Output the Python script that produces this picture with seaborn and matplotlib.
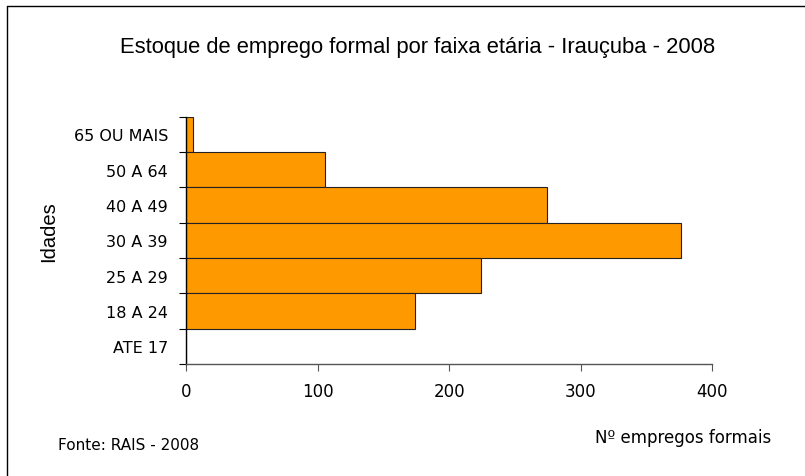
import matplotlib
matplotlib.use('Agg')
import matplotlib.pyplot as plt
import seaborn as sns
import pandas as pd
import numpy as np

faixas = ['ATE 17', '18 A 24', '25 A 29', '30 A 39', '40 A 49', '50 A 64', '65 OU MAIS']
empregos = [0, 174, 224, 376, 274, 106, 5]
x_ticks = [0, 100, 200, 300, 400]

sns.set_theme(style='white')
plt.rcParams['font.family'] = ['DejaVu Sans']
plt.rcParams['text.color'] = 'black'
plt.rcParams['xtick.color'] = 'black'
plt.rcParams['ytick.color'] = 'black'

df = pd.DataFrame({'Idades': faixas, 'Empregos': empregos})
order = faixas[::-1]

fig = plt.figure(figsize=(8.05, 4.77), dpi=100)
ax = fig.add_axes([0.231, 0.235, 0.654, 0.518])
sns.barplot(data=df, y='Idades', x='Empregos', order=order, orient='h',
            color='#FF9900', saturation=1, width=1.0,
            edgecolor='#222222', linewidth=0.8, ax=ax)

ax.set_xlim(0, 400)
ax.set_ylim(len(order) - 0.5, -0.5)
ax.set_xticks(x_ticks)
ax.set_xticklabels([str(t) for t in x_ticks], fontsize=12)
ax.set_yticks(range(len(order)))
ax.set_yticklabels(order, fontsize=11.5)
ax.set_yticks(np.arange(-0.5, len(order)), minor=True)
ax.tick_params(axis='y', which='major', length=0, pad=13)
ax.tick_params(axis='y', which='minor', length=5, width=0.8, color='black', direction='out', left=True)
ax.tick_params(axis='x', which='major', length=5, width=0.8, color='#555555', direction='out', bottom=True, pad=8)

for s in ['top', 'right']:
    ax.spines[s].set_visible(False)
ax.spines['left'].set_color('black')
ax.spines['left'].set_linewidth(1)
ax.spines['bottom'].set_color('#555555')
ax.spines['bottom'].set_linewidth(1)

ax.set_xlabel('')
ax.set_ylabel('')

fig.text(0.519, 0.900, 'Estoque de emprego formal por faixa etária - Irauçuba - 2008',
         ha='center', va='center', fontsize=15.8, family=['Liberation Sans', 'DejaVu Sans'])
fig.text(0.060, 0.514, 'Idades', rotation=90, ha='center', va='center', fontsize=14.5,
         family=['Liberation Sans', 'DejaVu Sans'])
fig.text(0.848, 0.082, 'Nº empregos formais', ha='center', va='center', fontsize=12)
fig.text(0.072, 0.065, 'Fonte: RAIS - 2008', ha='left', va='center', fontsize=11)

# moldura: linhas de cima e da esquerda
fig.add_artist(plt.Line2D([0.009, 1.0], [0.985, 0.985], color='black', linewidth=1, transform=fig.transFigure))
fig.add_artist(plt.Line2D([0.009, 0.009], [0.0, 0.985], color='black', linewidth=1, transform=fig.transFigure))

fig.savefig('out.png', dpi=100)
